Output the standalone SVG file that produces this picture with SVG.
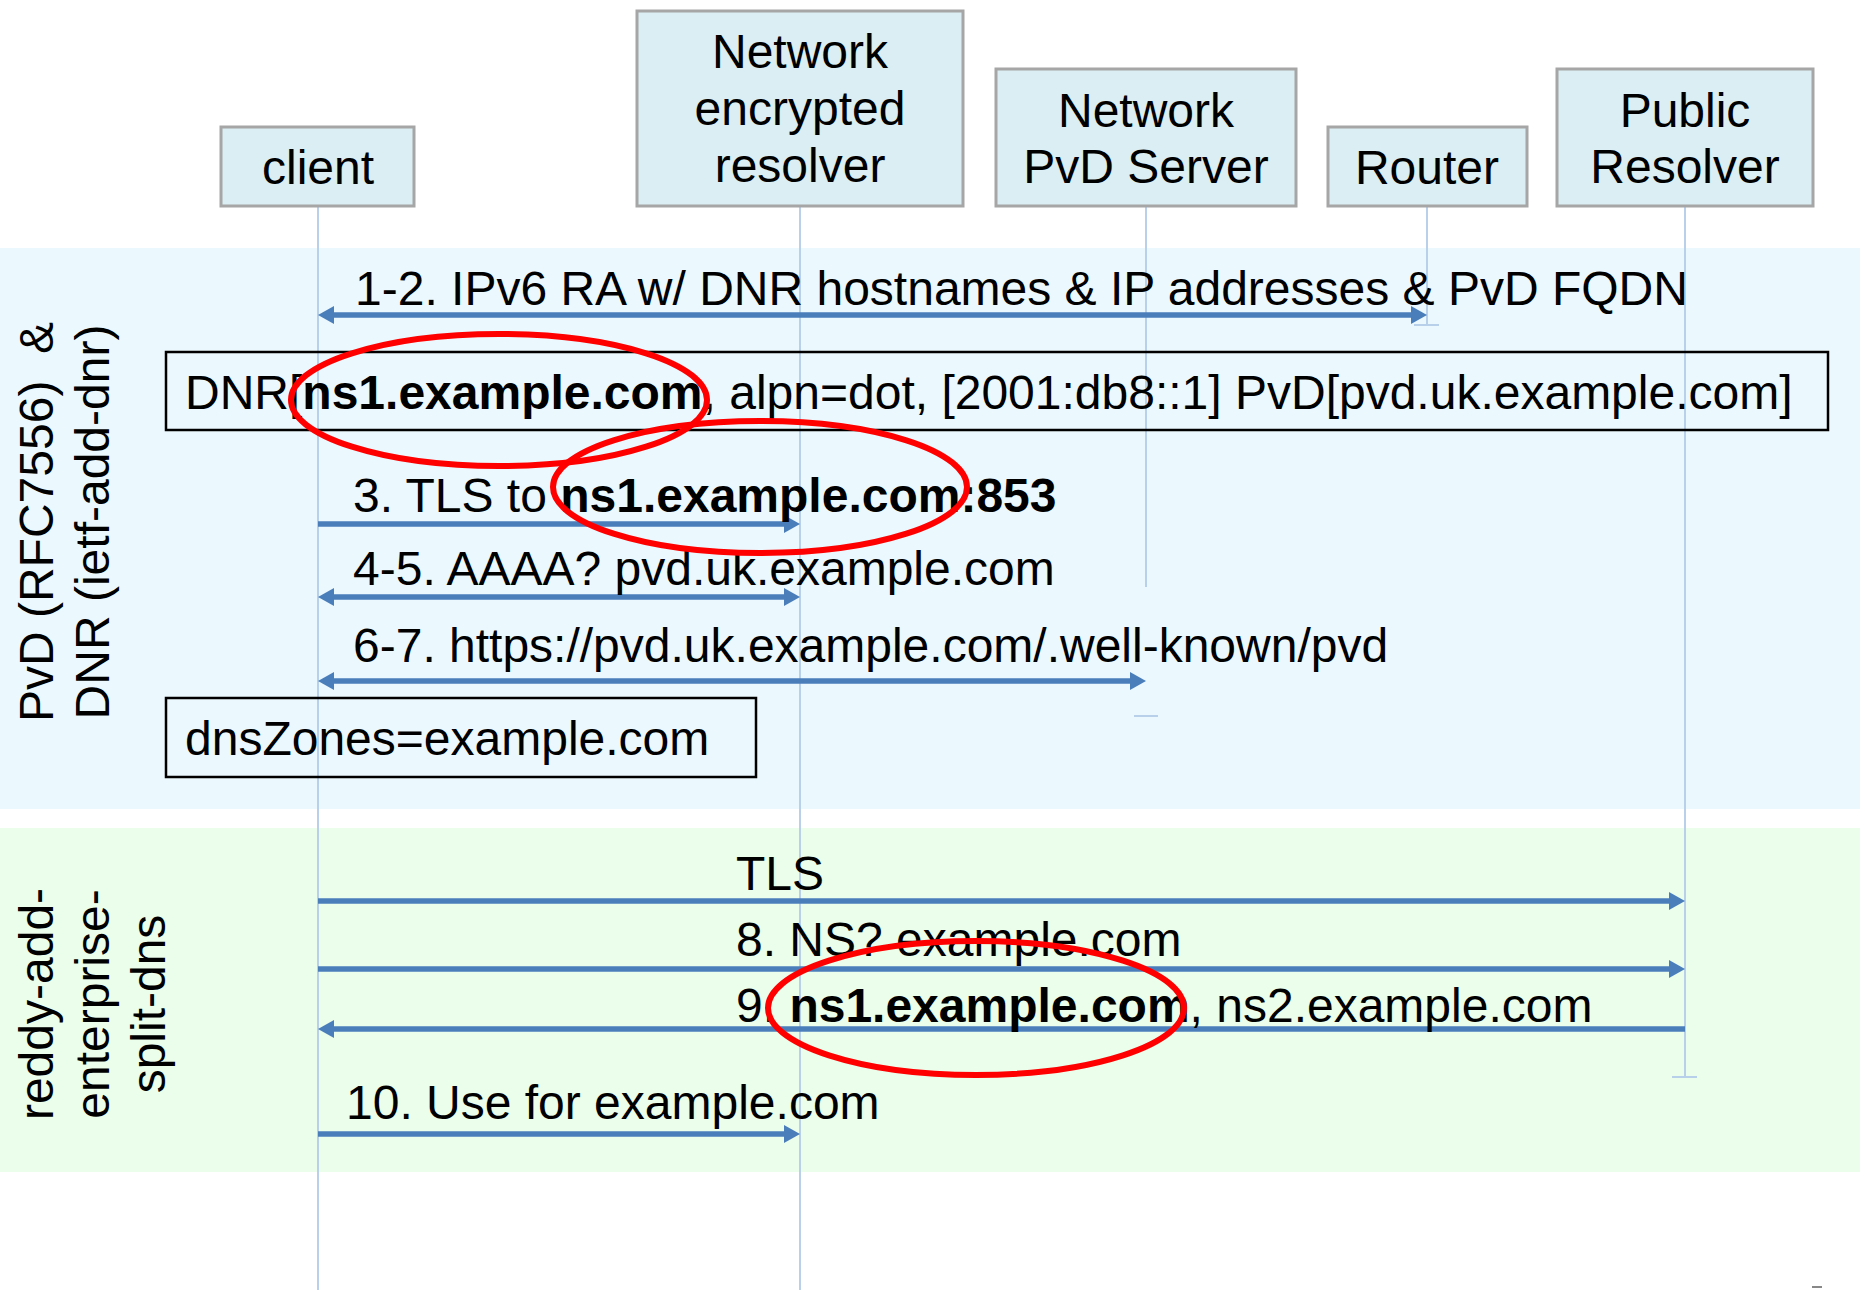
<svg xmlns="http://www.w3.org/2000/svg" width="1865" height="1290" viewBox="0 0 1865 1290">
<style>
text{font-family:"Liberation Sans",Arial,sans-serif;font-size:48px;fill:#000;white-space:pre}
.b{font-weight:bold}
.node rect{fill:#DAEEF3;stroke:#A6A6A6;stroke-width:3}
.node text{text-anchor:middle}
.life{stroke:#B8D0EA;stroke-width:2;fill:none}
.msg{stroke:#4A7EBB;stroke-width:5.5;fill:none}
.note{fill:none;stroke:#000;stroke-width:2.5}
.hl{fill:none;stroke:#FF0000;stroke-width:6}
.vl{text-anchor:middle}
</style>
<defs>
<marker id="ah" viewBox="0 0 16 18" refX="3" refY="9" markerWidth="16" markerHeight="18" markerUnits="userSpaceOnUse" orient="auto-start-reverse">
<path d="M0,0 L16,9 L0,18 z" fill="#4A7EBB"/>
</marker>
</defs>
<rect width="1865" height="1290" fill="#FFFFFF"/>
<g id="bands">
<rect x="0" y="248" width="1860" height="561" fill="#EBF8FD"/>
<rect x="0" y="828" width="1860" height="344" fill="#EBFDEB"/>
<text class="vl" transform="translate(53,522) rotate(-90)">PvD (RFC7556)  &amp;</text>
<text class="vl" transform="translate(109,522) rotate(-90)">DNR (ietf-add-dnr)</text>
<text class="vl" transform="translate(53,1004) rotate(-90)">reddy-add-</text>
<text class="vl" transform="translate(109,1004) rotate(-90)">enterprise-</text>
<text class="vl" transform="translate(165,1004) rotate(-90)">split-dns</text>
</g>
<g id="lifelines">
<line class="life" x1="318" y1="206" x2="318" y2="1290"/>
<line class="life" x1="800" y1="206" x2="800" y2="1290"/>
<line class="life" x1="1146" y1="206" x2="1146" y2="587"/>
<line class="life" x1="1134" y1="716" x2="1158" y2="716"/>
<line class="life" x1="1427" y1="206" x2="1427" y2="325"/>
<line class="life" x1="1414" y1="325" x2="1439" y2="325"/>
<line class="life" x1="1685" y1="206" x2="1685" y2="1077"/>
<line class="life" x1="1672" y1="1077" x2="1697" y2="1077"/>
</g>
<g id="client" class="node">
<rect x="221" y="127" width="193" height="79"/>
<text x="318" y="184">client</text>
</g>
<g id="resolver" class="node">
<rect x="637" y="11" width="326" height="195"/>
<text x="800" y="68">Network</text>
<text x="800" y="125">encrypted</text>
<text x="800" y="182">resolver</text>
</g>
<g id="pvdserver" class="node">
<rect x="996" y="69" width="300" height="137"/>
<text x="1146" y="127">Network</text>
<text x="1146" y="183">PvD Server</text>
</g>
<g id="router" class="node">
<rect x="1328" y="127" width="199" height="79"/>
<text x="1427" y="184">Router</text>
</g>
<g id="public" class="node">
<rect x="1557" y="69" width="256" height="137"/>
<text x="1685" y="127">Public</text>
<text x="1685" y="183">Resolver</text>
</g>
<g id="notes">
<rect class="note" x="166" y="352" width="1662" height="78"/>
<text x="185" y="409">DNR[<tspan class="b">ns1.example.com</tspan>, alpn=dot, [2001:db8::1] PvD[pvd.uk.example.com]</text>
<rect class="note" x="166" y="698" width="590" height="79"/>
<text x="185" y="755">dnsZones=example.com</text>
</g>
<g id="connectors">
<line class="msg" x1="331" y1="315" x2="1414" y2="315" marker-start="url(#ah)" marker-end="url(#ah)"/>
<line class="msg" x1="318" y1="524" x2="787" y2="524" marker-end="url(#ah)"/>
<line class="msg" x1="331" y1="597" x2="787" y2="597" marker-start="url(#ah)" marker-end="url(#ah)"/>
<line class="msg" x1="331" y1="681" x2="1133" y2="681" marker-start="url(#ah)" marker-end="url(#ah)"/>
<line class="msg" x1="318" y1="901" x2="1672" y2="901" marker-end="url(#ah)"/>
<line class="msg" x1="318" y1="969" x2="1672" y2="969" marker-end="url(#ah)"/>
<line class="msg" x1="1685" y1="1029" x2="331" y2="1029" marker-end="url(#ah)"/>
<line class="msg" x1="318" y1="1134" x2="787" y2="1134" marker-end="url(#ah)"/>
</g>
<g id="labels">
<text x="355" y="305">1-2. IPv6 RA w/ DNR hostnames &amp; IP addresses &amp; PvD FQDN</text>
<text x="353" y="512">3. TLS to <tspan class="b">ns1.example.com:853</tspan></text>
<text x="353" y="585">4-5. AAAA? pvd.uk.example.com</text>
<text x="353" y="662">6-7. https://pvd.uk.example.com/.well-known/pvd</text>
<text x="736" y="890">TLS</text>
<text x="736" y="956">8. NS? example.com</text>
<text x="736" y="1022">9. <tspan class="b">ns1.example.com</tspan>, ns2.example.com</text>
<text x="346" y="1119">10. Use for example.com</text>
</g>
<g id="highlights">
<ellipse class="hl" cx="499" cy="400" rx="208" ry="66"/>
<ellipse class="hl" cx="760" cy="487" rx="207" ry="66"/>
<ellipse class="hl" cx="976" cy="1008" rx="208" ry="67"/>
</g>
<line x1="1812" y1="1287" x2="1822" y2="1287" stroke="#888" stroke-width="2"/>
</svg>
